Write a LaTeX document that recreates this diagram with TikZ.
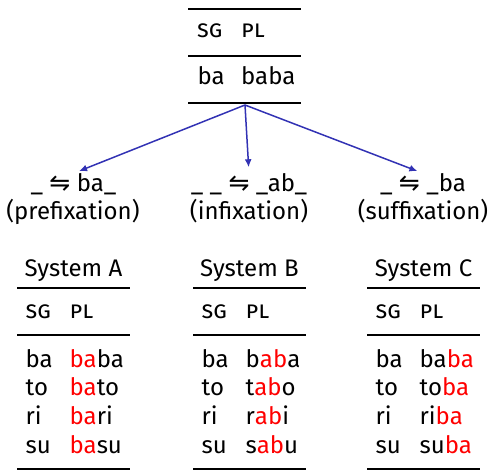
\documentclass[tikz,border=0pt]{standalone}
\usepackage{fontspec}
\setmainfont{Fira Sans}
\newfontfamily\symfont{DejaVu Sans}
\usetikzlibrary{arrows.meta}
\definecolor{arrowblue}{RGB}{50,50,180}
\definecolor{hl}{RGB}{255,0,0}

\tikzset{
  txt/.style={inner sep=0pt, anchor=base west, font=\fontsize{24}{28}\selectfont},
  hdr/.style={inner sep=0pt, anchor=base west, font=\fontsize{24}{28}\selectfont\scshape},
  ctr/.style={inner sep=0pt, anchor=base, font=\fontsize{24}{28}\selectfont},
  heavyrule/.style={line width=2pt},
  lightrule/.style={line width=1.2pt},
  arr/.style={draw=arrowblue, line width=1.5pt, shorten >=6pt,
    -{Latex[length=8pt,width=7pt]}},
}

% harpoon pair between the two halves of a rule
\newcommand\hp{{\symfont\fontsize{25}{28}\selectfont ⇋}}

% #1 left edge, #2 name prefix, #3 title, #4-#7 plural forms
\newcommand\drawsystem[7]{%
  \node[ctr] (#2title) at (#1+56.5,277) {#3};
  \draw[heavyrule] (#1,288) -- (#1+113,288);
  \node[hdr] (#2sg) at (#1+8.5,319) {sg};
  \node[hdr] (#2pl) at (#1+52.5,319) {pl};
  \draw[lightrule] (#1,335) -- (#1+113,335);
  \node[txt] (#2s1) at (#1+8.5,367) {ba};
  \node[txt] (#2p1) at (#1+52.5,367) {#4};
  \node[txt] (#2s2) at (#1+8.5,395.7) {to};
  \node[txt] (#2p2) at (#1+52.5,395.7) {#5};
  \node[txt] (#2s3) at (#1+8.5,424.4) {ri};
  \node[txt] (#2p3) at (#1+52.5,424.4) {#6};
  \node[txt] (#2s4) at (#1+8.5,453) {su};
  \node[txt] (#2p4) at (#1+52.5,453) {#7};
  \draw[lightrule] (#1,469) -- (#1+113,469);
}

\begin{document}
\begin{tikzpicture}[x=1pt,y=-1pt]
\useasboundingbox (0,0) rectangle (490,470);

% source paradigm
\draw[heavyrule] (188,9) -- (301,9);
\node[hdr] (tsg) at (197,38) {sg};
\node[hdr] (tpl) at (241,38) {pl};
\draw[lightrule] (188,56) -- (301,56);
\node[txt] (tsing) at (197.5,85) {ba};
\node[txt] (tplur) at (241,85) {baba};
\draw[heavyrule] (188,103) -- (301,103);
\coordinate (src) at (245,105);

% three analyses
\node[ctr] (lblA) at (73.5,191.5) {\_ \hp{} ba\_};
\node[ctr] (capA) at (73,220) {(prefixation)};
\node[ctr] (lblB) at (249,191.5) {\_ \_ \hp{} \_ab\_};
\node[ctr] (capB) at (249,220) {(infixation)};
\node[ctr] (lblC) at (423,191.5) {\_ \hp{} \_ba};
\node[ctr] (capC) at (423,220) {(suffixation)};

\draw[arr] (src) -- (lblA.north);
\draw[arr] (src) -- (lblB.north);
\draw[arr] (src) -- (lblC.north);

% resulting systems
\drawsystem{17}{A}{System A}{{\color{hl}ba}ba}{{\color{hl}ba}to}{{\color{hl}ba}ri}{{\color{hl}ba}su}
\drawsystem{193}{B}{System B}{b{\color{hl}ab}a}{t{\color{hl}ab}o}{r{\color{hl}ab}i}{s{\color{hl}ab}u}
\drawsystem{367}{C}{System C}{ba{\color{hl}ba}}{to{\color{hl}ba}}{ri{\color{hl}ba}}{su{\color{hl}ba}}
\end{tikzpicture}
\end{document}
